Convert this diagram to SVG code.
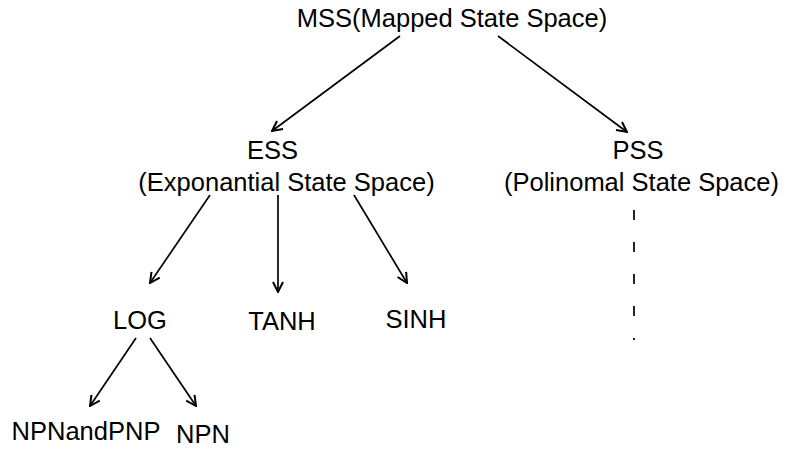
<svg xmlns="http://www.w3.org/2000/svg" width="786" height="452" viewBox="0 0 786 452">
<defs>
<style>
text{font-family:"Liberation Sans",Arial,sans-serif;font-size:25.5px;fill:#000;text-anchor:middle}
.c line{stroke:#000;stroke-width:1.7;fill:none}
.a{marker-end:url(#ah)}
.d{stroke-dasharray:10 22}
</style>
<marker id="ah" viewBox="0 0 12 12" refX="11" refY="6" markerWidth="12" markerHeight="12" markerUnits="userSpaceOnUse" orient="auto">
<path d="M1,1 L11,6 L1,11" fill="none" stroke="#000" stroke-width="2"/>
</marker>
</defs>
<rect width="786" height="452" fill="#fff"/>
<g id="mss"><text x="452" y="27">MSS(Mapped State Space)</text></g>
<g id="ess"><text x="272.5" y="159">ESS</text><text x="286.5" y="191">(Exponantial State Space)</text></g>
<g id="pss"><text x="638" y="159">PSS</text><text x="641.5" y="191">(Polinomal State Space)</text></g>
<g id="log"><text x="140" y="329">LOG</text></g>
<g id="tanh"><text x="282" y="330">TANH</text></g>
<g id="sinh"><text x="416" y="328">SINH</text></g>
<g id="npnandpnp"><text x="86" y="440">NPNandPNP</text></g>
<g id="npn"><text x="203" y="443">NPN</text></g>
<g class="c" id="connectors">
<line class="a" x1="400" y1="36" x2="272" y2="131"/>
<line class="a" x1="498" y1="36" x2="627" y2="132"/>
<line class="a" x1="210" y1="195" x2="150" y2="283"/>
<line class="a" x1="278" y1="195" x2="278" y2="292"/>
<line class="a" x1="354" y1="195" x2="407" y2="283"/>
<line class="a" x1="136" y1="338" x2="90" y2="406"/>
<line class="a" x1="150" y1="338" x2="196" y2="406"/>
<line class="d" x1="634" y1="210" x2="634" y2="340"/>
</g>
</svg>
